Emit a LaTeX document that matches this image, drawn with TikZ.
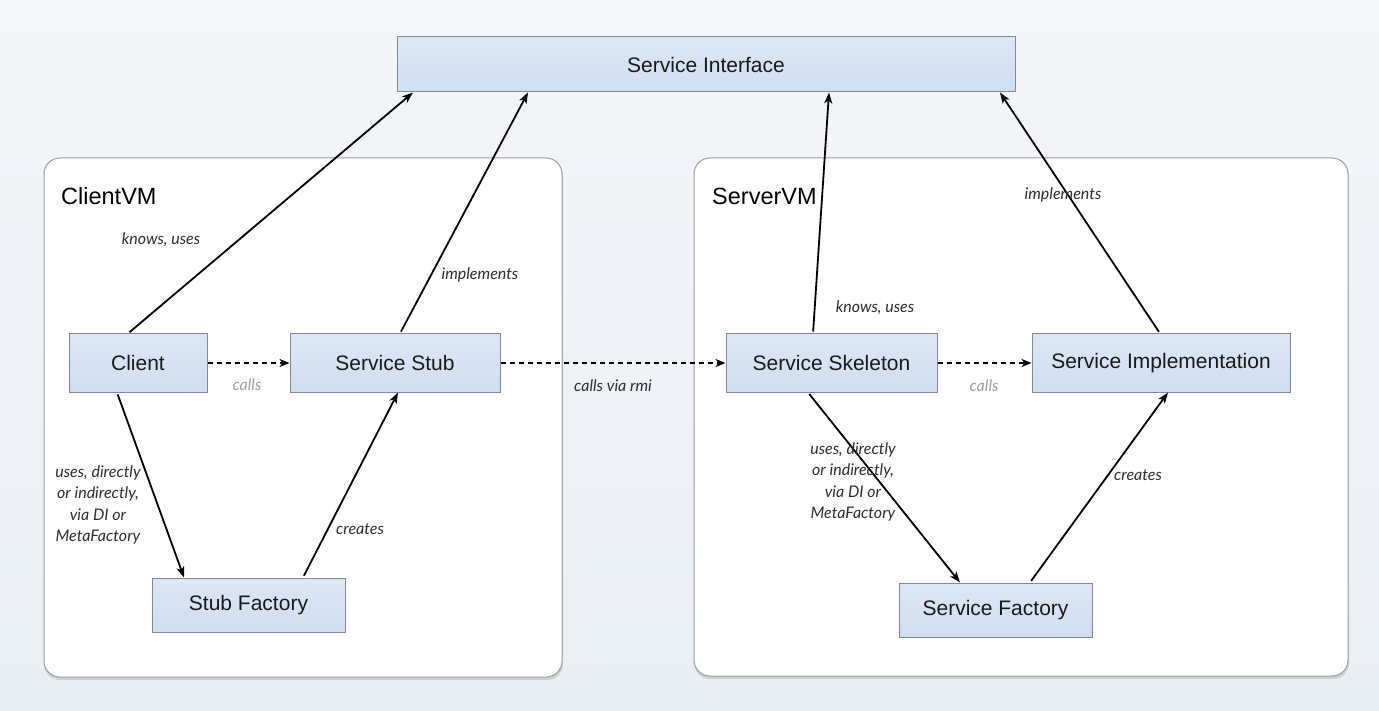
\documentclass[tikz,border=0pt]{standalone}
\usepackage{fontspec}
\setmainfont{Liberation Sans}
\newfontfamily\lblfont{Lato}
\usetikzlibrary{arrows.meta,calc}
\definecolor{bgc}{HTML}{E9EEF3}
\definecolor{bgtop}{HTML}{F4F6F9}
\definecolor{boxtop}{HTML}{DCE7F6}
\definecolor{boxbot}{HTML}{CFDEF2}
\definecolor{boxline}{HTML}{7F8A99}
\definecolor{vmline}{HTML}{9A9EA4}
\definecolor{lblc}{HTML}{2E2E2E}
\definecolor{callc}{HTML}{A0A0A0}
\tikzset{
  compbox/.style={draw=boxline, line width=1pt, top color=boxtop, bottom color=boxbot,
    inner sep=0pt, font=\fontsize{21}{24}\selectfont, text=black!90},
  vmbox/.style={draw=vmline, line width=1pt, fill=white, rounded corners=16pt, inner sep=0pt},
  vmshadow/.style={fill=black, opacity=0.12, rounded corners=16pt, inner sep=0pt},
  vmtitle/.style={font=\fontsize{23.5}{26}\selectfont, anchor=west, inner sep=0pt},
  rel/.style={line width=1.8pt, -{Stealth[length=11pt,width=8pt,inset=3pt]}, shorten <=2pt},
  callarrow/.style={line width=1.8pt, dash pattern=on 5pt off 4pt, -{Stealth[length=10pt,width=8pt,inset=3pt]}},
  lbl/.style={font=\lblfont\itshape\fontsize{16}{21.5}\selectfont, text=lblc, align=center, inner sep=0pt},
  calllbl/.style={font=\lblfont\itshape\fontsize{16}{18}\selectfont, text=callc, inner sep=0pt}
}
\begin{document}
\begin{tikzpicture}[x=1pt,y=-1pt]
\shade[top color=bgtop, bottom color=bgc] (0,0) rectangle (1379,711);
\useasboundingbox (0,0) rectangle (1379,711);
% containers
\fill[vmshadow] (44,160) rectangle (563,680);
\fill[vmshadow] (694,160) rectangle (1349,679);
\node[vmbox, minimum width=518pt, minimum height=519pt] (clientvm) at (303,417.5) {};
\node[vmbox, minimum width=654pt, minimum height=518pt] (servervm) at (1021,417) {};
\node[vmtitle] (clientvmt) at (61,196) {ClientVM};
\node[vmtitle] (servervmt) at (712,196) {ServerVM};
% boxes
\node[compbox, minimum width=618pt, minimum height=55pt] (iface) at (706,64.5) {Service Interface};
\node[compbox, minimum width=138pt, minimum height=58pt] (client) at (138,363) {Client};
\node[compbox, minimum width=210pt, minimum height=58pt] (stub) at (395,363) {Service Stub};
\node[compbox, minimum width=211pt, minimum height=58pt] (skel) at (831.5,363) {Service Skeleton};
\node[compbox, minimum width=258pt, minimum height=58pt] (impl) at (1161,363) {Service Implementation};
\node[compbox, minimum width=193pt, minimum height=54pt] (sfac) at (248.5,605) {Stub Factory};
\node[compbox, minimum width=193pt, minimum height=54pt] (svfac) at (995.5,610) {Service Factory};
% relations to interface
\draw[rel] ([xshift=-10pt]client.north) -- ([xshift=-293pt]iface.south);
\draw[rel] ([xshift=5pt]stub.north) -- ([xshift=-178pt]iface.south);
\draw[rel] ([xshift=-18.5pt]skel.north) -- ([xshift=123pt]iface.south);
\draw[rel] ([xshift=-1pt]impl.north) -- ([xshift=294pt]iface.south);
% calls
\draw[callarrow] (client.east) -- (stub.west);
\draw[callarrow] (stub.east) -- (skel.west);
\draw[callarrow] (skel.east) -- (impl.west);
% factories
\draw[rel] ([xshift=-21pt]client.south) -- ([xshift=-64.5pt]sfac.north);
\draw[rel] ([xshift=54.5pt]sfac.north) -- ([xshift=3pt]stub.south);
\draw[rel] ([xshift=-23.5pt]skel.south) -- ([xshift=-35.5pt]svfac.north);
\draw[rel] ([xshift=34.5pt]svfac.north) -- ([xshift=7pt]impl.south);
% labels
\node[lbl] (l1) at (161,240) {knows, uses};
\node[lbl] (l2) at (480,275) {implements};
\node[lbl] (l3) at (875,308) {knows, uses};
\node[lbl] (l4) at (1063,195) {implements};
\node[calllbl] (c1) at (247,385) {calls};
\node[lbl] (c2) at (613,386) {calls via rmi};
\node[calllbl] (c3) at (984,386) {calls};
\node[lbl] (l5) at (98,505) {uses, directly\\or indirectly,\\via DI or\\MetaFactory};
\node[lbl] (l6) at (360,529) {creates};
\node[lbl] (l7) at (853,482) {uses, directly\\or indirectly,\\via DI or\\MetaFactory};
\node[lbl] (l8) at (1138,475) {creates};
\end{tikzpicture}
\end{document}
